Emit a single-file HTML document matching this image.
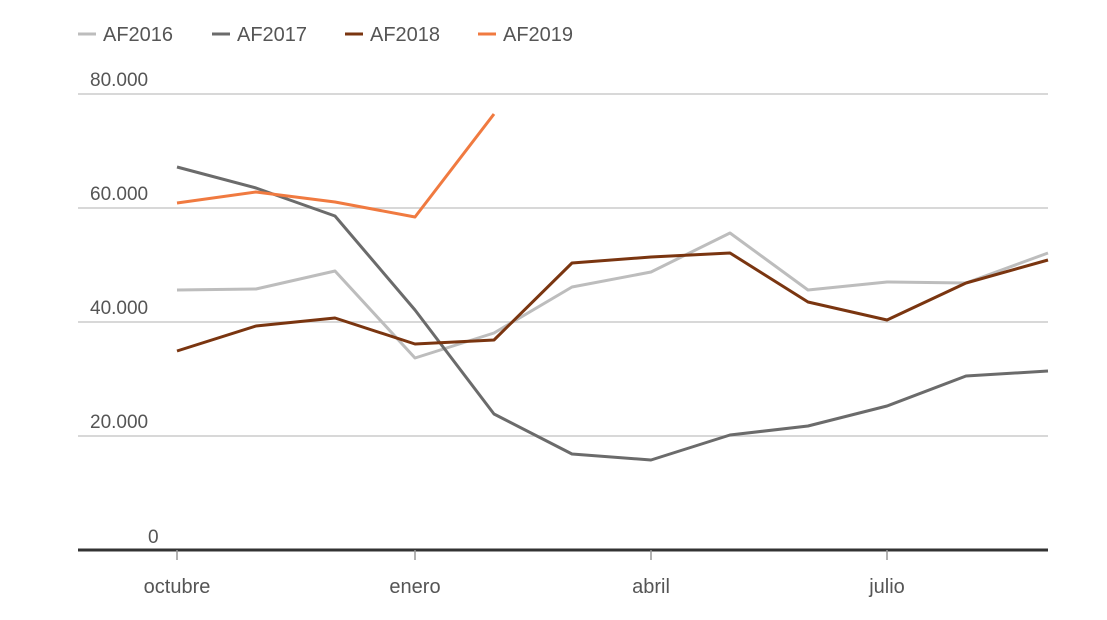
<!DOCTYPE html>
<html><head><meta charset="utf-8"><style>
html,body{margin:0;padding:0;background:#fff;}
svg{display:block;font-family:"Liberation Sans",sans-serif;}
</style></head><body>
<svg width="1107" height="620" viewBox="0 0 1107 620">
<g stroke="#ccc" stroke-width="1.5">
<line x1="78" y1="94" x2="1048" y2="94"/>
<line x1="78" y1="208" x2="1048" y2="208"/>
<line x1="78" y1="322" x2="1048" y2="322"/>
<line x1="78" y1="436" x2="1048" y2="436"/>
</g>
<g fill="#555" font-size="19">
<text x="90" y="86">80.000</text>
<text x="90" y="200">60.000</text>
<text x="90" y="314">40.000</text>
<text x="90" y="428">20.000</text>
<text x="148" y="543">0</text>
</g>
<g fill="none" stroke-width="3" stroke-linejoin="round">
<polyline stroke="#bdbdbd" points="177,290 256,289 335,271 415,358 494,333 572,287 651,272 730,233 808,290 887,282 966,283 1048,253"/>
<polyline stroke="#6b6b6b" points="177,167 256,188 335,216 415,310 494,414 572,454 651,460 730,435 808,426 887,406 966,376 1048,371"/>
<polyline stroke="#7a3510" points="177,351 256,326 335,318 415,344 494,340 572,263 651,257 730,253 808,302 887,320 966,283 1048,260"/>
<polyline stroke="#f07a40" points="177,203 256,192 335,202 415,217 494,114"/>
</g>
<line x1="78" y1="550" x2="1048" y2="550" stroke="#333" stroke-width="3"/>
<g stroke="#999" stroke-width="1.5">
<line x1="177" y1="550" x2="177" y2="560"/><line x1="415" y1="550" x2="415" y2="560"/>
<line x1="651" y1="550" x2="651" y2="560"/><line x1="887" y1="550" x2="887" y2="560"/>
</g>
<g fill="#555" font-size="20" text-anchor="middle">
<text x="177" y="593">octubre</text><text x="415" y="593">enero</text>
<text x="651" y="593">abril</text><text x="887" y="593">julio</text>
</g>
<g stroke-width="3">
<line x1="78" y1="34" x2="96" y2="34" stroke="#bdbdbd"/>
<line x1="212" y1="34" x2="230" y2="34" stroke="#6b6b6b"/>
<line x1="345" y1="34" x2="363" y2="34" stroke="#7a3510"/>
<line x1="478" y1="34" x2="496" y2="34" stroke="#f07a40"/>
</g>
<g fill="#555" font-size="20">
<text x="103" y="41">AF2016</text><text x="237" y="41">AF2017</text>
<text x="370" y="41">AF2018</text><text x="503" y="41">AF2019</text>
</g>
</svg>
</body></html>
